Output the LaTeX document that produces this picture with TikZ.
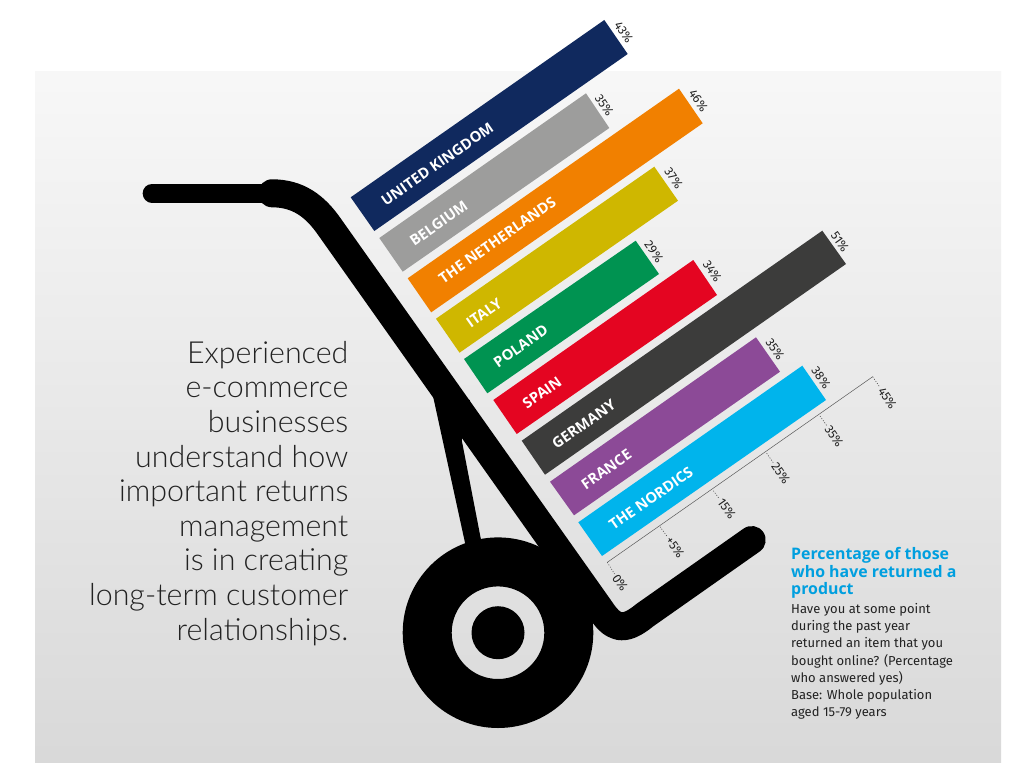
\documentclass[tikz,border=0pt]{standalone}
\usepackage{fontspec}
\setmainfont{Open Sans}
\newfontfamily\lightfont{Lato Light}
\newfontfamily\capfont{Fira Sans}
\definecolor{ukblue}{HTML}{10295E}
\definecolor{begrey}{HTML}{9D9D9C}
\definecolor{nlorange}{HTML}{F18000}
\definecolor{ityellow}{HTML}{CFB700}
\definecolor{plgreen}{HTML}{009351}
\definecolor{esred}{HTML}{E40521}
\definecolor{degrey}{HTML}{3C3C3B}
\definecolor{frpurple}{HTML}{8C4A97}
\definecolor{ndblue}{HTML}{00B4EC}
\definecolor{capblue}{HTML}{009FDF}
\definecolor{inkgrey}{HTML}{222222}
\tikzset{
  barname/.style={text=white,font=\fontsize{14.7}{15}\selectfont\bfseries,rotate=35,inner sep=0pt,anchor=center},
  barvalue/.style={text=inkgrey,font=\capfont\fontsize{12.5}{13}\selectfont,rotate=-55,inner sep=0pt,anchor=center},
  axisline/.style={draw=black!65,line width=0.5pt},
  tickline/.style={draw=black!70,line width=0.6pt,dash pattern=on 1pt off 1.6pt},
  cart/.style={draw=black,line width=28pt,line join=round},
}
\begin{document}
\begin{tikzpicture}[x=1pt,y=-1pt]
\useasboundingbox (0,0) rectangle (1024,773);
\fill[white] (0,0) rectangle (1024,773);
\shade[top color=black!3,bottom color=black!15,shading angle=0] (35,72) rectangle (1001,762);
% cart
\fill[black,even odd rule] (498,632.7) circle[radius=95.3] (498,632.7) circle[radius=46.3];
\fill[black] (498,632.7) circle[radius=26.5];
\fill[black] (433,396) -- (465.5,545) -- (482,545) -- (461.7,440) -- (470,400) -- cycle;
\draw[black,line width=18.7pt,line cap=round] (152,193.3) -- (272,193.3);
\draw[cart,line cap=round] (272,193.3) .. controls (298,193.3) and (315,206) .. (329.4,226.7) -- (600,609) .. controls (612,627) and (622,634) .. (645,615) -- (751.7,540);
% bars
\fill[ukblue] (350.7,197.3) -- (604.3,20) -- (627.7,54) -- (374.3,231) -- cycle;
\fill[begrey] (379.3,238) -- (586,93.3) -- (609.3,128) -- (402.7,271.7) -- cycle;
\fill[nlorange] (407.7,278.3) -- (679,88.7) -- (702.7,123.3) -- (431.2,312.3) -- cycle;
\fill[ityellow] (436,318.7) -- (654.3,166.7) -- (678,200.7) -- (459.5,352.7) -- cycle;
\fill[plgreen] (464,359) -- (635.7,240.7) -- (659,274) -- (487.3,393.3) -- cycle;
\fill[esred] (493.3,400) -- (693.3,260) -- (717,295) -- (516.7,434) -- cycle;
\fill[degrey] (521.7,440.7) -- (822.3,230.7) -- (846,264) -- (545,474.7) -- cycle;
\fill[frpurple] (550,481.7) -- (756,337.3) -- (780,371.7) -- (574,515.3) -- cycle;
\fill[ndblue] (578.3,522.3) -- (802.3,365.7) -- (826,400) -- (602,556) -- cycle;
% bar names
\node[barname] (nuk) at (437.3,164) {UNITED KINGDOM};
\node[barname] (nbe) at (438.7,223.3) {BELGIUM};
\node[barname] (nnl) at (497.3,240) {THE NETHERLANDS};
\node[barname] (nit) at (484,313) {ITALY};
\node[barname] (npl) at (520.7,346) {POLAND};
\node[barname] (nes) at (542,392.7) {SPAIN};
\node[barname] (nde) at (583.7,424) {GERMANY};
\node[barname] (nfr) at (606.3,469.3) {FRANCE};
\node[barname] (nnd) at (651,498.3) {THE NORDICS};
% bar values
\node[barvalue] (vuk) at (623.7,32.3) {43\%};
\node[barvalue] (vbe) at (604.3,105) {35\%};
\node[barvalue] (vnl) at (698.3,100.7) {46\%};
\node[barvalue] (vit) at (673.7,178.3) {37\%};
\node[barvalue] (vpl) at (654,251.7) {29\%};
\node[barvalue] (ves) at (712.3,271.7) {34\%};
\node[barvalue] (vde) at (840,241.7) {51\%};
\node[barvalue] (vfr) at (775,349.3) {35\%};
\node[barvalue] (vnd) at (821,377.7) {38\%};
% axis
\coordinate (a0) at (607.3,562.3);
\coordinate (a5) at (660,526.7);
\coordinate (a15) at (713.3,490.7);
\coordinate (a25) at (766.7,453.3);
\coordinate (a35) at (820,416);
\coordinate (a45) at (872.7,376.7);
\draw[axisline] (a0) -- (a45);
\node[barvalue] (t0) at (620,582.7) {0\%};
\node[barvalue] (t5) at (675,547.3) {+5\%};
\node[barvalue] (t15) at (726.7,508.7) {15\%};
\node[barvalue] (t25) at (780.7,473.3) {25\%};
\node[barvalue] (t35) at (834,436) {35\%};
\node[barvalue] (t45) at (887.3,398.3) {45\%};
\draw[tickline,shorten >=1.5pt] (a0) -- (t0);
\draw[tickline,shorten >=1.5pt] (a5) -- (t5);
\draw[tickline,shorten >=1.5pt] (a15) -- (t15);
\draw[tickline,shorten >=1.5pt] (a25) -- (t25);
\draw[tickline,shorten >=1.5pt] (a35) -- (t35);
\draw[tickline,shorten >=1.5pt] (a45) -- (t45);
% main text
\node[anchor=base east,align=right,inner sep=0pt,text=inkgrey,font=\lightfont\fontsize{30.4}{34.6}\selectfont] (lead) at (348.5,640) {Experienced\\e-commerce\\businesses\\understand how\\important returns\\management\\is in creating\\long-term customer\\relationships.};
% caption
\node[anchor=base west,align=left,inner sep=0pt,text=capblue,font=\bfseries\fontsize{15.9}{17.2}\selectfont] (captitle) at (791,594.3) {Percentage of those\\who have returned a\\product};
\node[anchor=base west,align=left,inner sep=0pt,text=inkgrey,font=\capfont\fontsize{13}{17.2}\selectfont] (capbody) at (791,716.7) {Have you at some point\\during the past year\\returned an item that you\\bought online? (Percentage\\who answered yes)\\Base: Whole population\\aged 15-79 years};
\end{tikzpicture}
\end{document}
